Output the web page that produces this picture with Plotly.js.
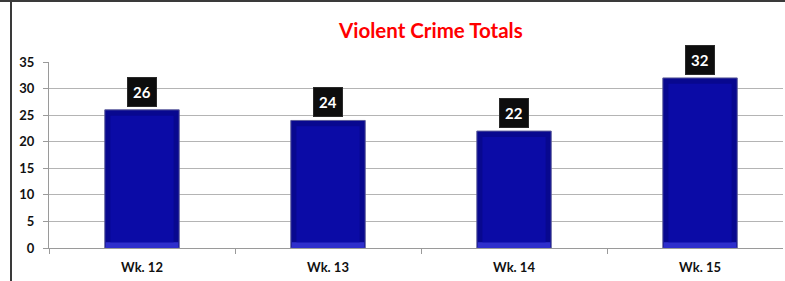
<!DOCTYPE html>
<html><head><meta charset="utf-8">
<script src="https://cdn.plot.ly/plotly-3.0.1.min.js"></script>
<style>
html,body{margin:0;padding:0;background:#fff;}
#wrap{position:relative;width:785px;height:281px;overflow:hidden;}
#chart{width:785px;height:281px;}
#bl{position:absolute;left:10px;top:0;width:2px;height:281px;background:#3a3a3a;}
#bt{position:absolute;left:0;top:0;width:785px;height:2px;background:#3a3a3a;}
</style></head>
<body><div id="wrap"><div id="chart"></div><div id="bl"></div><div id="bt"></div></div>
<script>
const categories = ["Wk. 12", "Wk. 13", "Wk. 14", "Wk. 15"];
const values = [26, 24, 22, 32];
const yTicks = [0, 5, 10, 15, 20, 25, 30, 35];

const FONT = 'Lato, "Open Sans", sans-serif';
const annotations = categories.map((c, i) => ({
  x: c, y: values[i], xref: 'x', yref: 'y',
  text: '<b>' + values[i] + '</b>', showarrow: false,
  yanchor: 'bottom', yshift: 3,
  font: {family: FONT, size: 15, color: '#ffffff'},
  bgcolor: '#0d0d0d', borderpad: 5, bordercolor: '#2a2a2a', borderwidth: 1
}));
annotations.push({
  xref: 'paper', yref: 'paper', x: 0.5, y: 1, yshift: 32, xanchor: 'center', yanchor: 'middle',
  xshift: 14,
  text: '<b>Violent Crime Totals</b>', showarrow: false,
  font: {family: FONT, size: 20.5, color: '#ff0000'}
});

// bevelled bar look: outer frame, lighter bottom strip, inner face
const frame = 1.1;
const outer = {
  type: 'bar', x: categories, y: values, width: 0.4,
  marker: {color: '#08088f', line: {color: '#5a5a9a', width: 1}},
  hoverinfo: 'none'
};
const bottom = {
  type: 'bar', x: categories, y: values.map(() => frame), width: 0.39,
  marker: {color: '#2f2fcc', line: {width: 0}},
  hoverinfo: 'none'
};
const inner = {
  type: 'bar', x: categories, y: values.map(v => v - 2 * frame), base: values.map(() => frame),
  width: 0.34,
  marker: {color: '#0b0ba6', line: {width: 0}},
  hoverinfo: 'none'
};

const layout = {
  width: 785, height: 281,
  margin: {l: 49, r: 2, t: 62, b: 33},
  paper_bgcolor: '#ffffff', plot_bgcolor: '#ffffff',
  showlegend: false, barmode: 'overlay',
  xaxis: {
    type: 'category', range: [-0.5, 3.446],
    showline: true, linecolor: '#9a9a9a', linewidth: 1,
    ticks: 'outside', tickson: 'boundaries', ticklen: 5, tickcolor: '#9a9a9a',
    ticktext: categories.map(c => '<b>' + c + '</b>'), tickvals: categories,
    ticklabelstandoff: 7,
    tickfont: {family: FONT, size: 13, color: '#111'},
    showgrid: false, fixedrange: true
  },
  yaxis: {
    range: [0, 35], tickvals: yTicks, ticktext: yTicks.map(v => '<b>' + v + '</b>'),
    showline: true, linecolor: '#9a9a9a', linewidth: 1,
    ticks: 'outside', ticklen: 5, tickcolor: '#9a9a9a',
    ticklabelstandoff: 6,
    showgrid: true, gridcolor: '#b4b4b4', gridwidth: 1,
    zeroline: false,
    tickfont: {family: FONT, size: 13, color: '#111'},
    fixedrange: true
  },
  annotations: annotations
};
Plotly.newPlot('chart', [outer, bottom, inner], layout, {displayModeBar: false, staticPlot: true});
</script></body></html>
